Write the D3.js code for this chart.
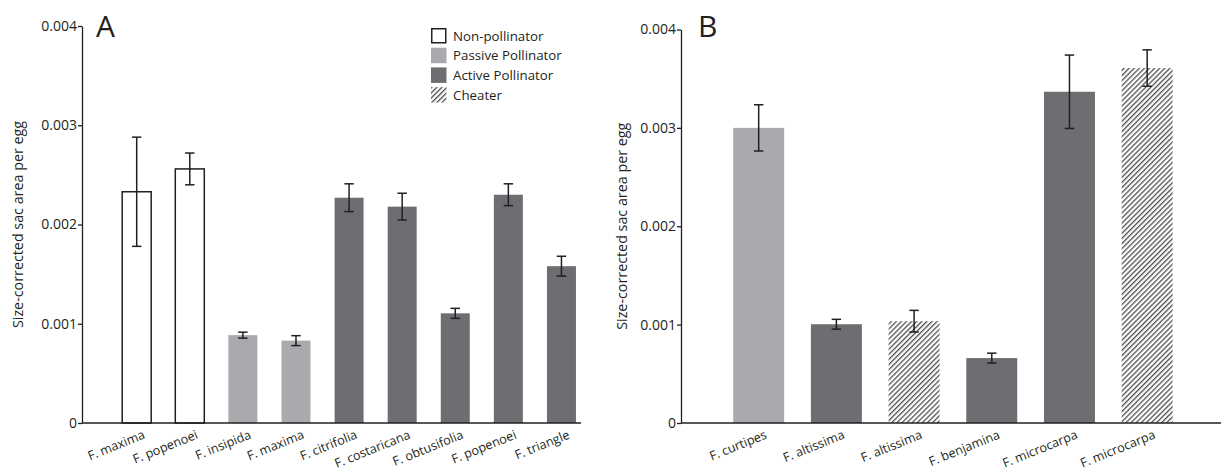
<!DOCTYPE html>
<html>
<head>
<meta charset="utf-8">
<script src="https://cdn.jsdelivr.net/npm/d3@7"></script>
<style>
  body { margin: 0; background: #fff; }
  svg text { font-family: "Open Sans", "Noto Sans", sans-serif; fill: #231f20; }
</style>
</head>
<body>
<svg id="chart" width="1221" height="473"></svg>
<script>
// panel A
var catsA = ["F. maxima", "F. popenoei", "F. insipida", "F. maxima", "F. citrifolia",
             "F. costaricana", "F. obtusifolia", "F. popenoei", "F. triangle"];
var groupA = ["non", "non", "passive", "passive", "active", "active", "active", "active", "active"];
var meanA = [0.00233, 0.00256, 0.000885, 0.00083, 0.00227, 0.00218, 0.001105, 0.0023, 0.00158];
var errA = [0.00055, 0.00016, 0.00003, 0.00005, 0.00014, 0.000135, 0.00005, 0.00011, 0.0001];

// panel B
var catsB = ["F. curtipes", "F. altissima", "F. altissima", "F. benjamina", "F. microcarpa", "F. microcarpa"];
var groupB = ["passive", "active", "cheater", "active", "active", "cheater"];
var meanB = [0.003, 0.001004, 0.001035, 0.00066, 0.003367, 0.003608];
var errB = [0.000235, 0.00005, 0.00011, 0.00005, 0.000373, 0.000185];

var yTicks = [0, 0.001, 0.002, 0.003, 0.004];
var legendLabels = ["Non-pollinator", "Passive Pollinator", "Active Pollinator", "Cheater"];
var legendGroups = ["non", "passive", "active", "cheater"];

var ink = "#231f20";
var svg = d3.select("#chart");

var defs = svg.append("defs");
var pat = defs.append("pattern")
    .attr("id", "hatch")
    .attr("patternUnits", "userSpaceOnUse")
    .attr("width", 3.6).attr("height", 3.6)
    .attr("patternTransform", "rotate(45)");
pat.append("rect").attr("width", 3.6).attr("height", 3.6).attr("fill", "#fff");
pat.append("line")
    .attr("x1", 0).attr("y1", 0).attr("x2", 0).attr("y2", 3.6)
    .attr("stroke", "#4e4f52").attr("stroke-width", 2.6);

function fillOf(g) {
  if (g == "non") return "#fff";
  if (g == "passive") return "#a9aaad";
  if (g == "active") return "#6d6e71";
  return "url(#hatch)";
}

function panel(o) {
  var n = o.cats.length;
  var idx = d3.range(n);
  var x = d3.scaleBand().domain(idx).range(o.xr).paddingInner(o.pad).paddingOuter(o.pad / 2);
  var y = d3.scaleLinear().domain([0, 0.004]).range(o.yr);

  var g = svg.append("g");

  // y axis
  var ya = g.append("g")
      .attr("transform", "translate(" + o.ax + ",0)")
      .call(d3.axisLeft(y).tickValues(yTicks).tickSize(4).tickSizeOuter(0)
        .tickFormat(function(d) { return d == 0 ? "0" : d3.format(".3f")(d); }));
  ya.selectAll("path, line").attr("stroke", ink).attr("stroke-width", 1.3);
  ya.selectAll("text").attr("font-size", 14).attr("fill", ink).attr("x", -5)
    .style("font-family", "'Open Sans', sans-serif");

  g.append("text")
      .attr("transform", "translate(" + o.titleX + "," + ((o.yr[0] + o.yr[1]) / 2) + ") rotate(-90)")
      .attr("text-anchor", "middle")
      .attr("dy", "0.35em")
      .attr("font-size", 14.3)
      .text("Size-corrected sac area per egg");

  g.append("text")
      .attr("x", o.labelX).attr("y", 37)
      .attr("font-size", 30)
      .text(o.label);

  // bars
  g.selectAll(".bar")
    .data(idx)
    .enter().append("rect")
      .attr("class", "bar")
      .attr("x", function(i) { return x(i); })
      .attr("width", x.bandwidth())
      .attr("y", function(i) { return y(o.mean[i]); })
      .attr("height", function(i) { return y(0) - y(o.mean[i]); })
      .attr("fill", function(i) { return fillOf(o.group[i]); })
      .attr("stroke", function(i) { return o.group[i] == "non" ? ink : "none"; })
      .attr("stroke-width", 1.5);

  // error bars
  var eb = g.selectAll(".err").data(idx).enter().append("g").attr("class", "err")
      .attr("stroke", ink).attr("stroke-width", 1.5);
  function cx(i) { return x(i) + x.bandwidth() / 2; }
  eb.append("line")
      .attr("x1", cx).attr("x2", cx)
      .attr("y1", function(i) { return y(o.mean[i] - o.err[i]); })
      .attr("y2", function(i) { return y(o.mean[i] + o.err[i]); });
  eb.append("line")
      .attr("x1", function(i) { return cx(i) - 4.7; }).attr("x2", function(i) { return cx(i) + 4.7; })
      .attr("y1", function(i) { return y(o.mean[i] + o.err[i]); })
      .attr("y2", function(i) { return y(o.mean[i] + o.err[i]); });
  eb.append("line")
      .attr("x1", function(i) { return cx(i) - 4.7; }).attr("x2", function(i) { return cx(i) + 4.7; })
      .attr("y1", function(i) { return y(o.mean[i] - o.err[i]); })
      .attr("y2", function(i) { return y(o.mean[i] - o.err[i]); });

  // x axis
  g.append("line")
      .attr("x1", o.ax).attr("x2", o.axEnd)
      .attr("y1", y(0)).attr("y2", y(0))
      .attr("stroke", ink).attr("stroke-width", 1.5);

  g.selectAll(".xlab")
    .data(idx)
    .enter().append("text")
      .attr("class", "xlab")
      .attr("transform", function(i) { return "translate(" + (cx(i) + 9) + "," + (y(0) + 15) + ") rotate(-22)"; })
      .attr("text-anchor", "end")
      .attr("font-size", 12.6)
      .text(function(i) { return o.cats[i]; });
}

panel({ cats: catsA, group: groupA, mean: meanA, err: errA,
        xr: [110.15, 588], pad: 0.454, yr: [423, 26], ax: 82, axEnd: 581,
        titleX: 18, label: "A", labelX: 96 });
panel({ cats: catsB, group: groupB, mean: meanB, err: errB,
        xr: [719.85, 1186], pad: 0.344, yr: [423, 29.5], ax: 681, axEnd: 1221,
        titleX: 622, label: "B", labelX: 698 });

// legend
var lg = svg.append("g").attr("transform", "translate(431,28)");
var row = lg.selectAll(".row").data(legendLabels).enter().append("g")
    .attr("transform", function(d, i) { return "translate(0," + (i * 19.7) + ")"; });
row.append("rect")
    .attr("x", function(d, i) { return i == 0 ? 0.75 : 0; })
    .attr("y", function(d, i) { return i == 0 ? 0.75 : 0; })
    .attr("width", function(d, i) { return i == 0 ? 14 : 15.5; })
    .attr("height", function(d, i) { return i == 0 ? 14 : 15.5; })
    .attr("fill", function(d, i) { return fillOf(legendGroups[i]); })
    .attr("stroke", function(d, i) { return i == 0 ? ink : "none"; })
    .attr("stroke-width", 1.5);
row.append("text")
    .attr("x", 22).attr("y", 8)
    .attr("dy", "0.35em")
    .attr("font-size", 13.3)
    .text(function(d) { return d; });
</script>
</body>
</html>
